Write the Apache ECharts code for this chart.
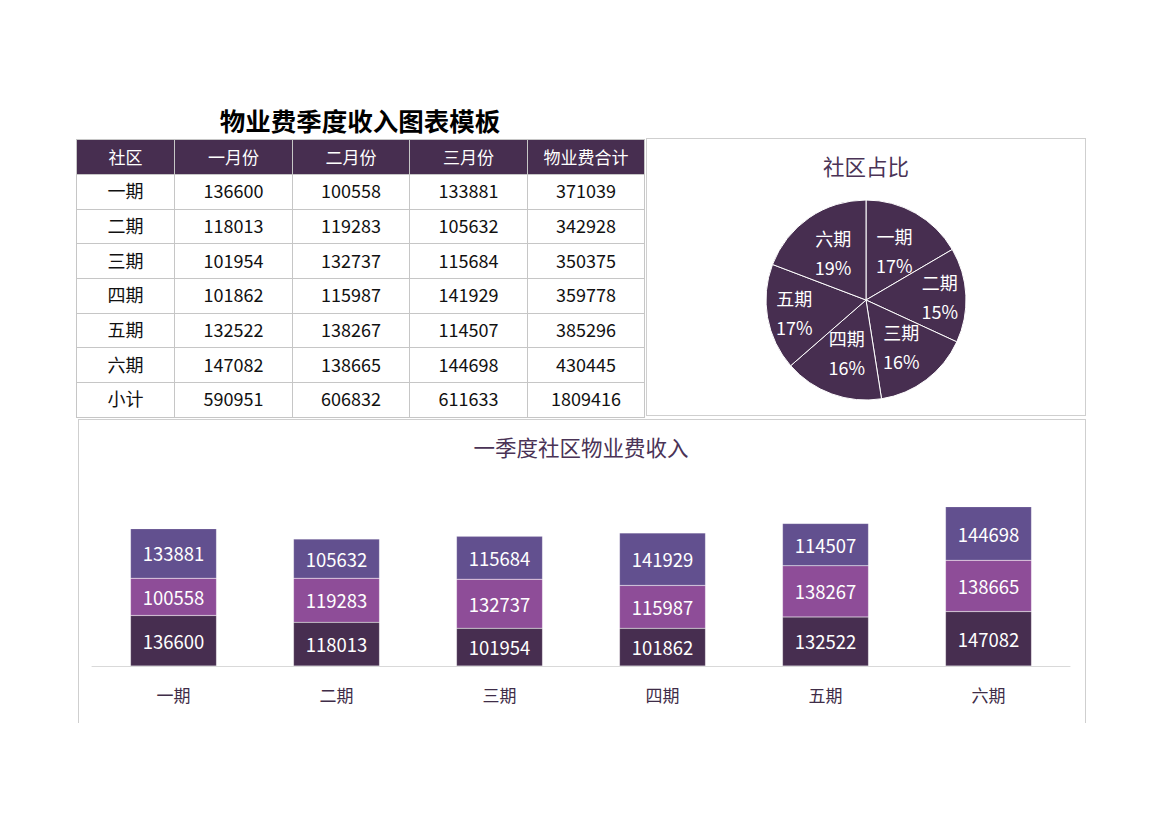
<!DOCTYPE html>
<html>
<head>
<meta charset="utf-8">
<script src="https://cdn.jsdelivr.net/npm/echarts@6/dist/echarts.min.js"></script>
<style>
  html, body { margin: 0; padding: 0; background: #fff; }
  #wrap { position: relative; width: 1170px; height: 827px; overflow: hidden; font-family: "Noto Sans CJK SC", "Noto Sans", sans-serif; }
  #mainTitle { position: absolute; left: 160px; width: 400px; top: 101px; text-align: center; font-size: 25.5px; font-weight: bold; color: #000; line-height: 38px; }
  #tbl { position: absolute; left: 76px; top: 139px; border-collapse: collapse; table-layout: fixed; }
  #tbl td, #tbl th { border: 1px solid #c6c6c6; text-align: center; padding: 0 0 3px 0; font-size: 18px; color: #111; height: 30.7px; font-weight: normal; }
  #tbl th { background: #472E50; color: #fff; font-size: 17px; height: 32px; padding: 0 0 2px 0; border-color: #c6c6c6; }
  .box { position: absolute; border: 1px solid #cfcfcf; box-sizing: border-box; }
  #chart { position: absolute; left: 0; top: 0; width: 1170px; height: 827px; }
</style>
</head>
<body>
<div id="wrap">
  <div class="box" style="left:646px; top:138px; width:440px; height:278px;"></div>
  <div class="box" style="left:78px; top:419px; width:1008px; height:304px; border-bottom:none;"></div>
  <div id="mainTitle"></div>
  <table id="tbl"></table>
  <div id="chart"></div>
</div>
<script>
// ---- data ----
const communities = ['一期', '二期', '三期', '四期', '五期', '六期'];
const monthNames = ['一月份', '二月份', '三月份'];
const janValues = [136600, 118013, 101954, 101862, 132522, 147082];
const febValues = [100558, 119283, 132737, 115987, 138267, 138665];
const marValues = [133881, 105632, 115684, 141929, 114507, 144698];
const totalValues = [371039, 342928, 350375, 359778, 385296, 430445];
const subtotalValues = [590951, 606832, 611633, 1809416];
const tableTitle = '物业费季度收入图表模板';
const pieTitle = '社区占比';
const barTitle = '一季度社区物业费收入';

// ---- table ----
(function buildTable() {
  const colW = [98, 118, 117, 118, 117];
  const tbl = document.getElementById('tbl');
  let html = '<colgroup>' + colW.map(w => '<col style="width:' + w + 'px">').join('') + '</colgroup>';
  html += '<tr><th>社区</th>' + monthNames.map(m => '<th>' + m + '</th>').join('') + '<th>物业费合计</th></tr>';
  communities.forEach((c, i) => {
    html += '<tr><td>' + c + '</td><td>' + janValues[i] + '</td><td>' + febValues[i] + '</td><td>' + marValues[i] + '</td><td>' + totalValues[i] + '</td></tr>';
  });
  html += '<tr><td>小计</td>' + subtotalValues.map(s => '<td>' + s + '</td>').join('') + '</tr>';
  tbl.innerHTML = html;
  document.getElementById('mainTitle').textContent = tableTitle;
})();

// ---- chart ----
const chart = echarts.init(document.getElementById('chart'), null, { renderer: 'svg' });
const font = '"Noto Sans CJK SC", "Noto Sans", sans-serif';
const cDark = '#472E50', cMid = '#8E4D98', cTop = '#62508F';
const pieData = communities.map((c, i) => ({ name: c, value: totalValues[i] }));
const barLabel = { show: true, position: 'inside', color: '#fff', fontSize: 18.5, fontFamily: font };

// label placement emulating Excel "best fit" for the pie
const pieCenter = [866, 300];
const pieSum = totalValues.reduce((a, b) => a + b, 0);
const midAngles = [];
(function () {
  let acc = 0;
  totalValues.forEach(v => { midAngles.push((acc + v / 2) / pieSum * 2 * Math.PI); acc += v; });
})();

chart.setOption({
  animation: false,
  backgroundColor: 'transparent',
  textStyle: { fontFamily: font },
  title: [
    { text: pieTitle, left: 866, top: 155, textAlign: 'center', padding: 0,
      textStyle: { fontSize: 21.5, fontWeight: 'normal', color: '#4A3356', fontFamily: font } },
    { text: barTitle, left: 581, top: 436, textAlign: 'center', padding: 0,
      textStyle: { fontSize: 21.5, fontWeight: 'normal', color: '#4A3356', fontFamily: font } }
  ],
  grid: { left: 92, right: 100, top: 481, bottom: 161 },
  xAxis: {
    type: 'category', data: communities,
    axisLine: { lineStyle: { color: '#d9d9d9', width: 1 } },
    axisTick: { show: false },
    axisLabel: { color: '#3F2D48', fontSize: 17, margin: 20, fontFamily: font }
  },
  yAxis: { type: 'value', min: 0, max: 500000, show: false, splitLine: { show: false } },
  series: [
    { name: monthNames[0], type: 'bar', stack: 'q', data: janValues, barWidth: 86,
      itemStyle: { color: cDark, borderColor: 'rgba(255,255,255,0.35)', borderWidth: 0.5 }, label: barLabel },
    { name: monthNames[1], type: 'bar', stack: 'q', data: febValues, barWidth: 86,
      itemStyle: { color: cMid, borderColor: 'rgba(255,255,255,0.35)', borderWidth: 0.5 }, label: barLabel },
    { name: monthNames[2], type: 'bar', stack: 'q', data: marValues, barWidth: 86,
      itemStyle: { color: cTop, borderColor: 'rgba(255,255,255,0.35)', borderWidth: 0.5 }, label: barLabel },
    { type: 'pie', center: pieCenter, radius: [0, 100], startAngle: 90, clockwise: true,
      data: pieData, silent: true, percentPrecision: 0,
      itemStyle: { color: cDark, borderColor: '#fff', borderWidth: 1 },
      label: { show: true, position: 'inside', formatter: '{b}\n{d}%', color: '#fff', fontSize: 18,
        lineHeight: 29, fontFamily: font },
      labelLine: { show: false },
      labelLayout: function (params) {
        const a = midAngles[params.dataIndex];
        const s = Math.abs(Math.sin(a));
        const r = 56 + 18 * Math.pow(s, 4);
        return {
          x: pieCenter[0] + r * Math.sin(a),
          y: pieCenter[1] - r * Math.cos(a),
          align: 'center', verticalAlign: 'middle', hideOverlap: false
        };
      } }
  ]
});
</script>
</body>
</html>
